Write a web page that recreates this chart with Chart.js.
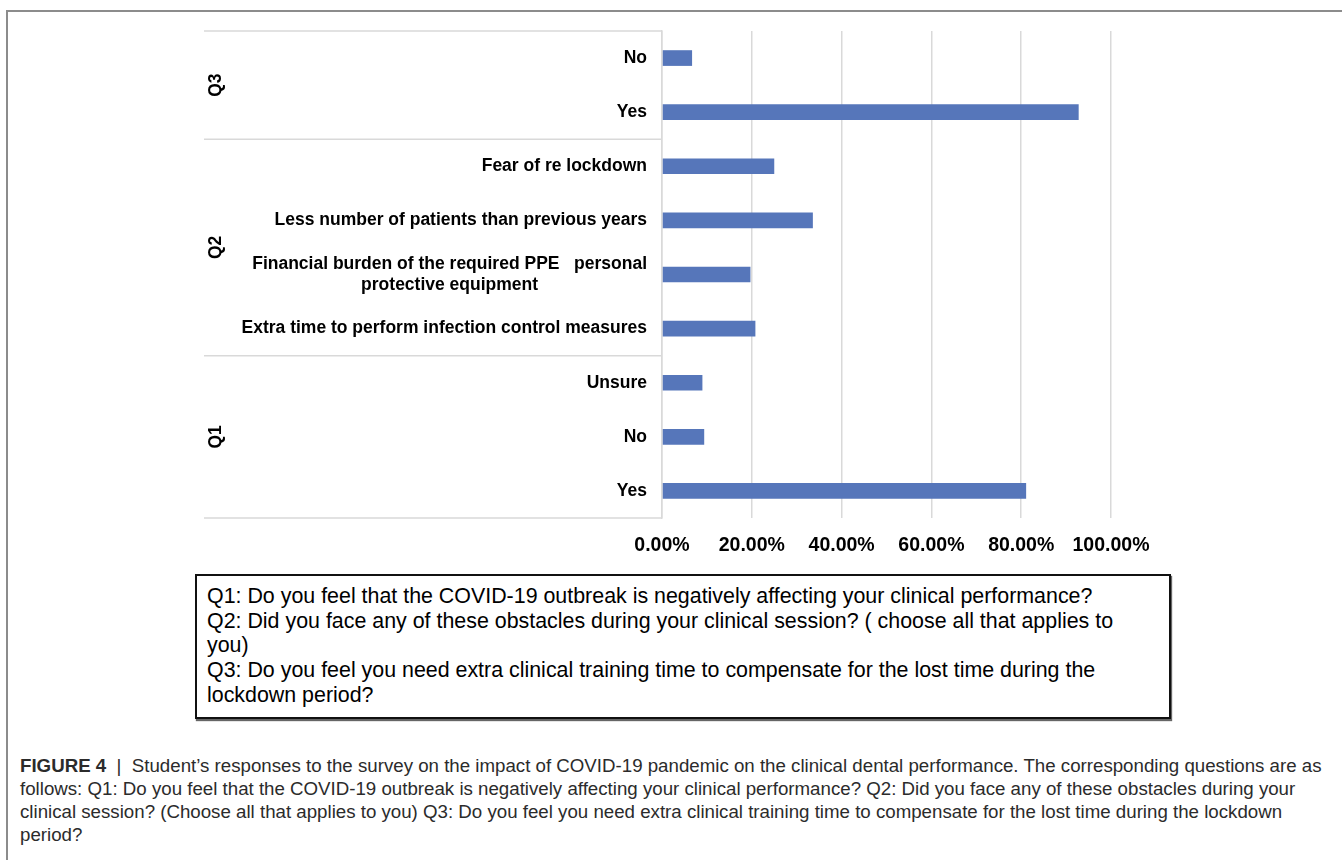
<!DOCTYPE html>
<html>
<head>
<meta charset="utf-8">
<script src="https://cdn.jsdelivr.net/npm/chart.js@4.4.1/dist/chart.umd.min.js"></script>
<style>
  body { margin: 0; background: #fff; width: 1342px; height: 860px; overflow: hidden; position: relative; font-family: "Liberation Sans", Arial, sans-serif; }
  #frame { position: absolute; left: 6px; top: 10px; width: 1400px; height: 900px; border-left: 2px solid #8c8c8c; border-top: 2px solid #8c8c8c; }
  #wrap { position: absolute; left: 0; top: 0; width: 1342px; height: 570px; }
  #box { position: absolute; left: 195px; top: 574px; width: 952px; height: 125px; border: 2px solid #111; box-shadow: 1px 2px 1px #666;
         padding: 8px 10px 8px 10px; font-size: 21.4px; line-height: 24.7px; color: #000; white-space: nowrap; }
  #caption { position: absolute; left: 20px; top: 754px; width: 1310px; font-size: 18.7px; line-height: 23px; color: #2b2b2b; white-space: nowrap; }
  #caption b { font-weight: bold; }
</style>
</head>
<body>
<div id="frame"></div>
<div id="wrap"><canvas id="grafico" width="1342" height="570"></canvas></div>
<div id="box">Q1: Do you feel that the COVID-19 outbreak is negatively affecting your clinical performance?<br>Q2: Did you face any of these obstacles during your clinical session? ( choose all that applies to<br>you)<br>Q3: Do you feel you need extra clinical training time to compensate for the lost time during the<br>lockdown period?</div>
<div id="caption"><b>FIGURE 4</b>&nbsp; | &nbsp;Student’s responses to the survey on the impact of COVID-19 pandemic on the clinical dental performance. The corresponding questions are as<br>follows: Q1: Do you feel that the COVID-19 outbreak is negatively affecting your clinical performance? Q2: Did you face any of these obstacles during your<br>clinical session? (Choose all that applies to you) Q3: Do you feel you need extra clinical training time to compensate for the lost time during the lockdown<br>period?</div>
<script>
// respostas, de cima para baixo
const categorias = [
  ["No"],
  ["Yes"],
  ["Fear of re lockdown"],
  ["Less number of patients than previous years"],
  ["Financial burden of the required PPE   personal", "protective equipment"],
  ["Extra time to perform infection control measures"],
  ["Unsure"],
  ["No"],
  ["Yes"]
];
const valores = [6.7, 92.8, 25.0, 33.6, 19.7, 20.8, 9.0, 9.4, 81.1];
const grupos = ["Q3", "Q2", "Q1"];
const gruposInicio = [0, 2, 6]; // primeiro índice de cada grupo
const ticksX = [0, 20, 40, 60, 80, 100];

const corLinha = "#d9d9d9";
const fonteBold = "bold 17.5px 'Liberation Sans', Arial, sans-serif";

// rótulos do eixo y, linhas separadoras e nomes dos grupos
const rotulosPlugin = {
  id: "rotulos",
  afterDraw(chart) {
    const ctx = chart.ctx;
    const y = chart.scales.y;
    const area = chart.chartArea;
    const xEsq = 204;
    ctx.save();
    ctx.font = fonteBold;
    ctx.fillStyle = "#000";
    ctx.textBaseline = "middle";
    categorias.forEach((linhas, i) => {
      const cy = y.getPixelForValue(i);
      const larg = Math.max(...linhas.map((l) => ctx.measureText(l).width));
      const centro = area.left - 15 - larg / 2;
      const alt = 21;
      linhas.forEach((l, k) => {
        ctx.textAlign = "center";
        ctx.fillText(l, centro, cy + (k - (linhas.length - 1) / 2) * alt);
      });
    });

    // separadores
    ctx.strokeStyle = corLinha;
    ctx.lineWidth = 1.5;
    const limites = [area.top];
    gruposInicio.slice(1).forEach((g) => {
      limites.push((y.getPixelForValue(g - 1) + y.getPixelForValue(g)) / 2);
    });
    limites.push(area.bottom);
    limites.forEach((ly) => {
      ctx.beginPath();
      ctx.moveTo(xEsq, ly);
      ctx.lineTo(area.left, ly);
      ctx.stroke();
    });

    // Q3, Q2, Q1 girados
    grupos.forEach((g, i) => {
      const cy = (limites[i] + limites[i + 1]) / 2;
      ctx.save();
      ctx.translate(216, cy);
      ctx.rotate(-Math.PI / 2);
      ctx.textAlign = "center";
      ctx.fillStyle = "#000";
      ctx.fillText(g, 0, 0);
      ctx.restore();
    });
    ctx.restore();
  }
};

new Chart(document.getElementById("grafico").getContext("2d"), {
  type: "bar",
  data: {
    labels: categorias,
    datasets: [{
      data: valores,
      backgroundColor: "#5676ba",
      borderWidth: 0,
      categoryPercentage: 1,
      barPercentage: 0.29
    }]
  },
  options: {
    indexAxis: "y",
    responsive: false,
    animation: false,
    devicePixelRatio: 1,
    layout: { padding: { top: 31, right: 231, left: 0, bottom: 0 } },
    plugins: {
      legend: { display: false },
      tooltip: { enabled: false }
    },
    scales: {
      x: {
        min: 0,
        max: 100,
        afterBuildTicks: (s) => { s.ticks = ticksX.map((v) => ({ value: v })); },
        afterFit: (s) => { s.height = 52; },
        grid: { color: corLinha, lineWidth: 1.5, drawTicks: false },
        border: { display: false },
        ticks: {
          padding: 16,
          color: "#000",
          font: { family: "'Liberation Sans', Arial, sans-serif", size: 19.5, weight: "bold" },
          callback: (v) => v.toFixed(2) + "%"
        }
      },
      y: {
        afterFit: (s) => { s.width = 662; },
        grid: { display: false },
        border: { display: true, color: corLinha, width: 1.5 },
        ticks: { display: false }
      }
    }
  },
  plugins: [rotulosPlugin]
});
</script>
</body>
</html>
